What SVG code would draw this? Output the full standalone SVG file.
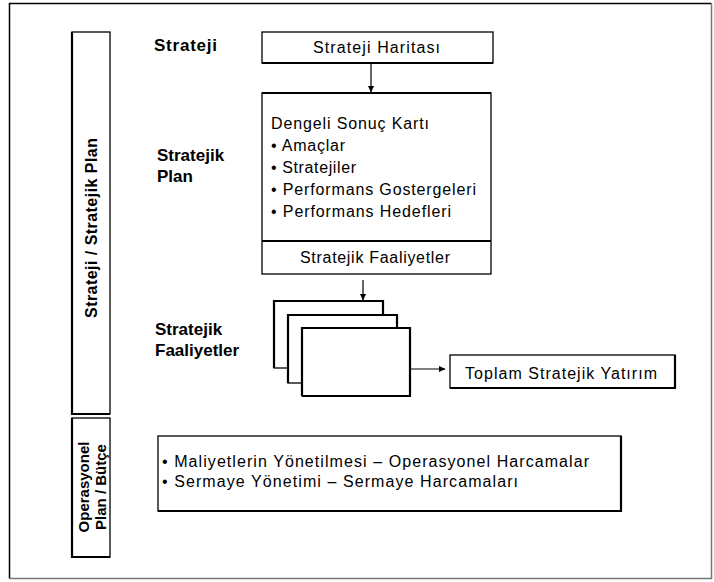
<svg xmlns="http://www.w3.org/2000/svg" width="714" height="582" viewBox="0 0 714 582">
  <style>
    .box { fill: #fff; stroke: #000; stroke-width: 1.3; }
    .edge { stroke: #000; stroke-width: 2.2; fill: none; }
    .conn { stroke: #000; stroke-width: 1.2; fill: none; }
    .t { font-family: "Liberation Sans", Arial, sans-serif; font-size: 16px; fill: #000; }
    .b { font-family: "Liberation Sans", Arial, sans-serif; font-size: 17px; font-weight: bold; fill: #000; }
    .v { font-family: "Liberation Sans", Arial, sans-serif; font-size: 16px; font-weight: bold; fill: #000; }
  </style>
  <defs>
    <marker id="arrow" markerWidth="7" markerHeight="7" refX="6" refY="3.5" orient="auto" markerUnits="userSpaceOnUse">
      <path d="M0,0.5 L6.5,3.5 L0,6.5 z" fill="#000"/>
    </marker>
  </defs>

  <rect width="714" height="582" fill="#fff"/>

  <!-- outer frame -->
  <g id="frame">
    <path d="M9.5,578.5 V3.5 H711.5" stroke="#000" stroke-width="1.5" fill="none"/>
    <path d="M711.5,3.5 V578.5 H9.5" stroke="#777" stroke-width="1.5" fill="none"/>
  </g>

  <!-- side band: strategy / strategic plan -->
  <g id="band-strategy">
    <rect class="box" x="72" y="32" width="38" height="382"/>
    <path class="edge" d="M72,32 V414 H110"/>
    <text class="v" transform="translate(97,228) rotate(-90)" text-anchor="middle" textLength="180" lengthAdjust="spacing">Strateji  / Stratejik Plan</text>
  </g>

  <!-- side band: operational plan / budget -->
  <g id="band-operational">
    <rect class="box" x="72" y="418" width="38" height="139"/>
    <path class="edge" d="M72,418 V557 H110"/>
    <text class="v" transform="translate(89,487) rotate(-90)" text-anchor="middle" style="font-size:15px">Operasyonel</text>
    <text class="v" transform="translate(106,487) rotate(-90)" text-anchor="middle" style="font-size:15px">Plan / Bütçe</text>
  </g>

  <!-- level labels -->
  <g id="label-strateji">
    <text class="b" x="154" y="51" textLength="63" lengthAdjust="spacing">Strateji</text>
  </g>
  <g id="label-plan">
    <text class="b" x="157" y="161">Stratejik</text>
    <text class="b" x="157" y="182">Plan</text>
  </g>
  <g id="label-faaliyetler">
    <text class="b" x="155" y="335">Stratejik</text>
    <text class="b" x="155" y="356">Faaliyetler</text>
  </g>

  <!-- strategy map -->
  <g id="strateji-haritasi">
    <rect class="box" x="262" y="32" width="231" height="31"/>
    <path class="edge" d="M262,63 H493"/>
    <text class="t" x="313" y="53" textLength="127" lengthAdjust="spacing">Strateji Haritası</text>
  </g>

  <!-- balanced scorecard -->
  <g id="dengeli-sonuc-karti">
    <rect class="box" x="262" y="93" width="229" height="181"/>
    <path class="edge" d="M262,93 H491"/>
    <path class="edge" d="M262,241 H491"/>
    <text class="t" x="271" y="129" textLength="158" lengthAdjust="spacing">Dengeli Sonuç Kartı</text>
    <text class="t" x="271" y="151" textLength="74" lengthAdjust="spacing">• Amaçlar</text>
    <text class="t" x="271" y="173" textLength="85" lengthAdjust="spacing">• Stratejiler</text>
    <text class="t" x="271" y="195" textLength="205" lengthAdjust="spacing">• Performans Gostergeleri</text>
    <text class="t" x="271" y="217" textLength="180" lengthAdjust="spacing">• Performans Hedefleri</text>
    <text class="t" x="300" y="263" textLength="150" lengthAdjust="spacing">Stratejik Faaliyetler</text>
  </g>

  <!-- stacked activity cards -->
  <g id="faaliyet-kartlari">
    <rect class="box" x="274" y="301" width="109" height="67"/>
    <path class="edge" d="M274,368 V301 H383 V315"/>
    <rect class="box" x="288" y="315" width="109" height="68"/>
    <path class="edge" d="M288,383 V315 H397 V328"/>
    <rect class="box" x="302" y="328" width="108" height="68"/>
    <path class="edge" d="M302,396 V328 H410 V396 H302"/>
  </g>

  <!-- total strategic investment -->
  <g id="toplam-stratejik-yatirim">
    <rect class="box" x="450" y="355" width="225" height="33"/>
    <path class="edge" d="M450,388 H675 V355"/>
    <text class="t" x="465" y="379" textLength="192" lengthAdjust="spacing">Toplam Stratejik Yatırım</text>
  </g>

  <!-- operational budget items -->
  <g id="operasyonel-butce">
    <rect class="box" x="158" y="436" width="463" height="75"/>
    <path class="edge" d="M158,511 H621 V436"/>
    <text class="t" x="162" y="467" textLength="427" lengthAdjust="spacing">• Maliyetlerin Yönetilmesi – Operasyonel Harcamalar</text>
    <text class="t" x="162" y="487" textLength="356" lengthAdjust="spacing">• Sermaye Yönetimi – Sermaye Harcamaları</text>
  </g>

  <!-- connectors -->
  <g id="connectors">
    <line class="conn" x1="371" y1="63" x2="371" y2="92" marker-end="url(#arrow)"/>
    <line class="conn" x1="363" y1="280" x2="363" y2="300" marker-end="url(#arrow)"/>
    <line class="conn" x1="410" y1="369" x2="445" y2="369" marker-end="url(#arrow)"/>
  </g>
</svg>
